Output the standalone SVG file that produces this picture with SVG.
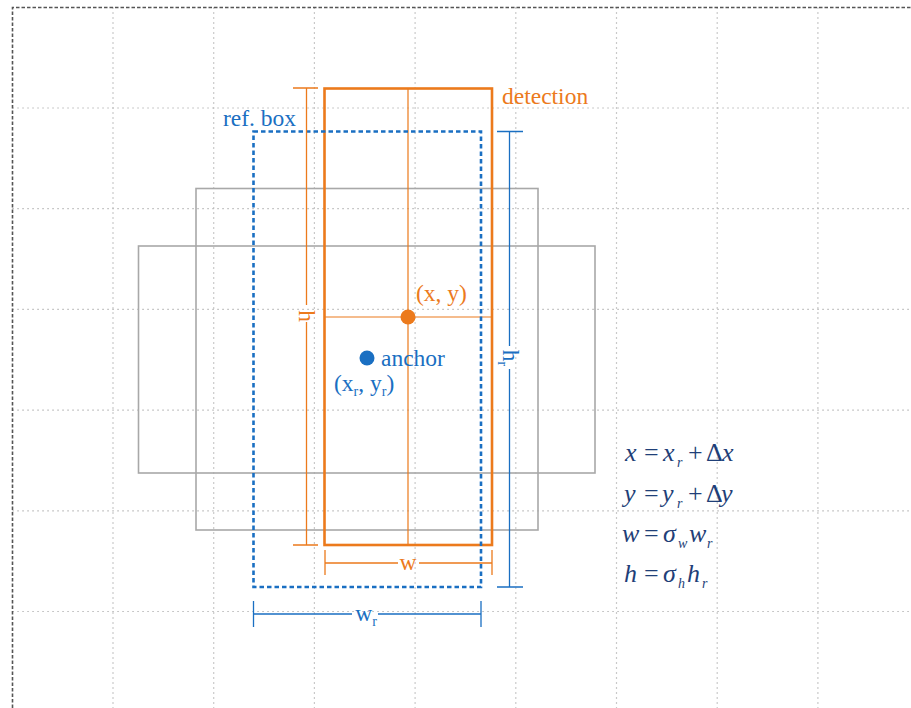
<svg xmlns="http://www.w3.org/2000/svg" width="911" height="708" viewBox="0 0 911 708">
  <style>
    .grid { stroke: #b8b8b8; stroke-width: 1.2; stroke-dasharray: 1.5 3.5; fill: none; }
    .frame { stroke: #555; stroke-width: 1.6; stroke-dasharray: 3.5 2; fill: none; }
    .anchorbox { stroke: #a8a8a8; stroke-width: 1.6; fill: none; }
    .det { stroke: #ec7a1c; fill: none; }
    .ref { stroke: #1a6fc2; fill: none; }
    .lbl { font-family: "Liberation Serif", "Times New Roman", serif; font-size: 23.5px; }
    .orange { fill: #ec7a1c; }
    .blue { fill: #1a6fc2; }
    .eq { font-family: "Liberation Serif", "Times New Roman", serif; font-size: 26px; font-style: italic; fill: #1f3f78; }
    .up { font-style: normal; }
    .sub { font-size: 14px; }
  </style>

  <!-- background grid -->
  <g id="grid">
    <path class="grid" d="M113.0 7.3V708 M213.7 7.3V708 M314.4 7.3V708 M415.1 7.3V708 M515.8 7.3V708 M616.5 7.3V708 M717.2 7.3V708 M817.9 7.3V708"/>
    <path class="grid" d="M12.3 108.0H911 M12.3 208.7H911 M12.3 309.4H911 M12.3 410.1H911 M12.3 510.8H911 M12.3 611.5H911"/>
    <path class="frame" d="M12.5 708V7.5H911"/>
  </g>

  <!-- candidate anchor boxes -->
  <g id="anchor-boxes">
    <rect class="anchorbox" x="196" y="188.5" width="342" height="341.5"/>
    <rect class="anchorbox" x="138.5" y="246" width="456.5" height="227"/>
  </g>

  <!-- detection box -->
  <g id="detection">
    <path class="det" stroke-width="1.2" d="M408 88V545 M324.5 317H492"/>
    <rect class="det" stroke-width="2.6" x="324.5" y="88.5" width="167.5" height="456.5"/>
    <circle cx="408" cy="317" r="7.5" fill="#ec7a1c"/>
    <text class="lbl orange" x="502" y="104">detection</text>
    <text class="lbl orange" x="416" y="301">(x, y)</text>
  </g>

  <!-- reference box -->
  <g id="ref-box">
    <rect class="ref" stroke-width="2.6" stroke-dasharray="4.5 3" x="253.5" y="131.5" width="227.5" height="455.5"/>
    <circle cx="367" cy="358" r="7.5" fill="#1a6fc2"/>
    <text class="lbl blue" x="223" y="126">ref. box</text>
    <text class="lbl blue" x="381" y="366">anchor</text>
    <text class="lbl blue" x="334" y="391">(x<tspan class="sub" dy="5">r</tspan><tspan dy="-5">, y</tspan><tspan class="sub" dy="5">r</tspan><tspan dy="-5">)</tspan></text>
  </g>

  <!-- dimension lines -->
  <g id="connectors">
    <!-- h -->
    <path class="det" stroke-width="1.3" d="M293 88H318 M293 545H318 M306.5 88V305 M306.5 322V545"/>
    <!-- w -->
    <path class="det" stroke-width="1.3" d="M325 550V575 M492 550V575 M325 563H398 M419 563H492"/>
    <!-- h_r -->
    <path class="ref" stroke-width="1.3" d="M497 131.5H523 M497 587H523 M509.5 131.5V346 M509.5 369V587"/>
    <!-- w_r -->
    <path class="ref" stroke-width="1.3" d="M253.5 601V627 M481 601V627 M253.5 614H352 M378 614H481"/>
  </g>

  <!-- dimension labels -->
  <g id="dim-labels">
    <text class="lbl orange" text-anchor="middle" transform="translate(299 316) rotate(90)">h</text>
    <text class="lbl orange" text-anchor="middle" x="408" y="570">w</text>
    <text class="lbl blue" text-anchor="middle" transform="translate(503 358) rotate(90)">h<tspan class="sub" dy="5">r</tspan></text>
    <text class="lbl blue" text-anchor="middle" x="366" y="621">w<tspan class="sub" dy="5">r</tspan></text>
  </g>

  <!-- parameterisation -->
  <g id="equations">
    <text class="eq" y="461"><tspan x="625">x</tspan><tspan class="up" x="644">=</tspan><tspan x="663">x</tspan><tspan class="sub" x="677" dy="6">r</tspan><tspan class="up" x="688" dy="-6">+</tspan><tspan class="up" x="706">Δ</tspan><tspan x="722">x</tspan></text>
    <text class="eq" y="502"><tspan x="624">y</tspan><tspan class="up" x="644">=</tspan><tspan x="662">y</tspan><tspan class="sub" x="677" dy="6">r</tspan><tspan class="up" x="688" dy="-6">+</tspan><tspan class="up" x="706">Δ</tspan><tspan x="721">y</tspan></text>
    <text class="eq" y="542"><tspan x="622">w</tspan><tspan class="up" x="644">=</tspan><tspan x="663">σ</tspan><tspan class="sub" x="678" dy="6">w</tspan><tspan x="689" dy="-6">w</tspan><tspan class="sub" x="707" dy="6">r</tspan></text>
    <text class="eq" y="582"><tspan x="624">h</tspan><tspan class="up" x="644">=</tspan><tspan x="663">σ</tspan><tspan class="sub" x="678" dy="6">h</tspan><tspan x="687" dy="-6">h</tspan><tspan class="sub" x="702" dy="6">r</tspan></text>
  </g>
</svg>
